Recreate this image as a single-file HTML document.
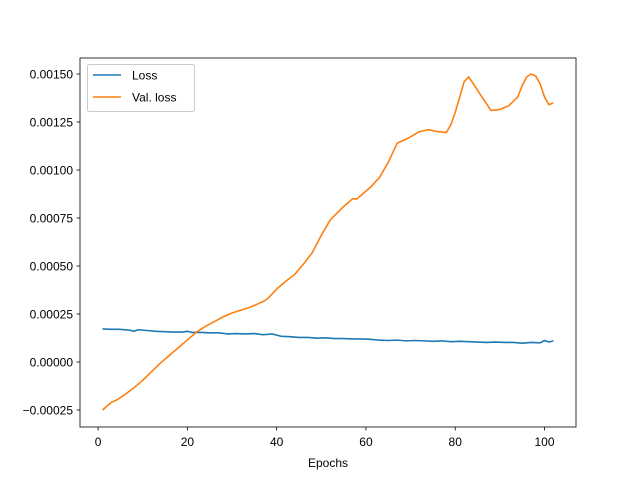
<!DOCTYPE html>
<html><head><meta charset="utf-8"><style>
body{margin:0;background:#fff}
svg text{font-family:"Liberation Sans","DejaVu Sans",sans-serif;font-size:12px;fill:#000}
</style></head><body>
<svg id="chart" width="640" height="480" xmlns="http://www.w3.org/2000/svg">
<rect width="640" height="480" fill="#fff"/>
<g id="ticks"></g>
<polyline id="loss" fill="none" stroke="#1f77b4" stroke-width="1.6" stroke-linejoin="round"/>
<polyline id="val" fill="none" stroke="#ff7f0e" stroke-width="1.6" stroke-linejoin="round"/>
<rect x="80" y="58" width="496" height="369" fill="none" stroke="#000" stroke-width="0.8"/>
<text x="328" y="467" text-anchor="middle">Epochs</text>
<g>
<rect x="87.5" y="64.5" width="107" height="47" rx="2" fill="#fff" fill-opacity="0.8" stroke="#ccc"/>
<line x1="93" y1="75" x2="121" y2="75" stroke="#1f77b4" stroke-width="1.5"/>
<text x="132" y="79.5">Loss</text>
<line x1="93" y1="97" x2="121" y2="97" stroke="#ff7f0e" stroke-width="1.5"/>
<text x="132" y="101.5">Val. loss</text>
</g>
</svg>
<script>
const xTicks=[0,20,40,60,80,100];
const yTicks=[-0.00025,0,0.00025,0.0005,0.00075,0.001,0.00125,0.0015];
const yTickLabels=["−0.00025","0.00000","0.00025","0.00050","0.00075","0.00100","0.00125","0.00150"];
const lossEpochs=[1,3,5,7,8,9,11,13,15,17,19,20,21,23,25,27,29,31,33,35,37,39,41,43,45,47,49,51,53,55,57,59,61,63,65,67,69,71,73,75,77,79,81,83,85,87,89,91,93,95,97,99,100,101,102];
const lossValues=[17.2,17,17,16.6,16,16.8,16.4,16,15.8,15.6,15.6,16,15.4,15.4,15.2,15.2,14.6,14.8,14.6,14.8,14.2,14.6,13.4,13.2,12.8,12.8,12.4,12.6,12.2,12.2,12,12,11.8,11.4,11.2,11.4,11,11.2,11,10.8,11,10.6,10.8,10.6,10.4,10.2,10.4,10.2,10.2,9.8,10.2,10,11.2,10.4,11];
const valEpochs=[1,2,3,4,5,6,8,10,12,14,16,18,20,22,24,26,28,30,32,34,36,37,38,40,42,44,46,48,50,52,55,57,58,59,61,63,65,66,67,69,72,74,76,78,79,80,81,82,83,84,86,88,90,92,94,95,96,97,98,99,100,101,102];
const valValues=[-25,-23,-21,-20,-18.5,-17,-13.5,-9.5,-5,-0.5,3.5,7.5,11.5,15.5,18.5,21,23.5,25.5,27,28.5,30.5,31.5,33,38,42,45.5,51,57,66,74,81,85,85,87,91,96,104,109,114,116,120,121,120,119.5,123.5,130,138,146,148.5,145,138,131,131.5,133.5,138,144,148.5,150,149,145,138,134,135];
const x=e=>80+(e+4.05)*496/111.1;
const y=v=>362-v*48/0.00025;
const g=document.getElementById('ticks');
const ns='http://www.w3.org/2000/svg';
xTicks.forEach(t=>{
 const l=document.createElementNS(ns,'line');
 
 
 l.setAttribute('x1',x(t));l.setAttribute('x2',x(t));l.setAttribute('y1',427);l.setAttribute('y2',430.5);l.setAttribute('stroke','#000');l.setAttribute('stroke-width','0.8');g.appendChild(l);
 const tx=document.createElementNS(ns,'text');
 
 
 tx.setAttribute('x',x(t));tx.setAttribute('y',446);tx.setAttribute('text-anchor','middle');tx.textContent=t;g.appendChild(tx);
});
yTicks.forEach((t,i)=>{
 const l=document.createElementNS(ns,'line');
 
 
 l.setAttribute('x1',76.5);l.setAttribute('x2',80);l.setAttribute('y1',y(t));l.setAttribute('y2',y(t));l.setAttribute('stroke','#000');l.setAttribute('stroke-width','0.8');g.appendChild(l);
 const tx=document.createElementNS(ns,'text');
 
 
 tx.setAttribute('x',73);tx.setAttribute('y',y(t)+4.5);tx.setAttribute('text-anchor','end');tx.textContent=yTickLabels[i];g.appendChild(tx);
});
document.getElementById('loss').setAttribute('points',lossEpochs.map((e,i)=>x(e)+','+y(lossValues[i]*1e-5)).join(' '));
document.getElementById('val').setAttribute('points',valEpochs.map((e,i)=>x(e)+','+y(valValues[i]*1e-5)).join(' '));
</script>
</body></html>
